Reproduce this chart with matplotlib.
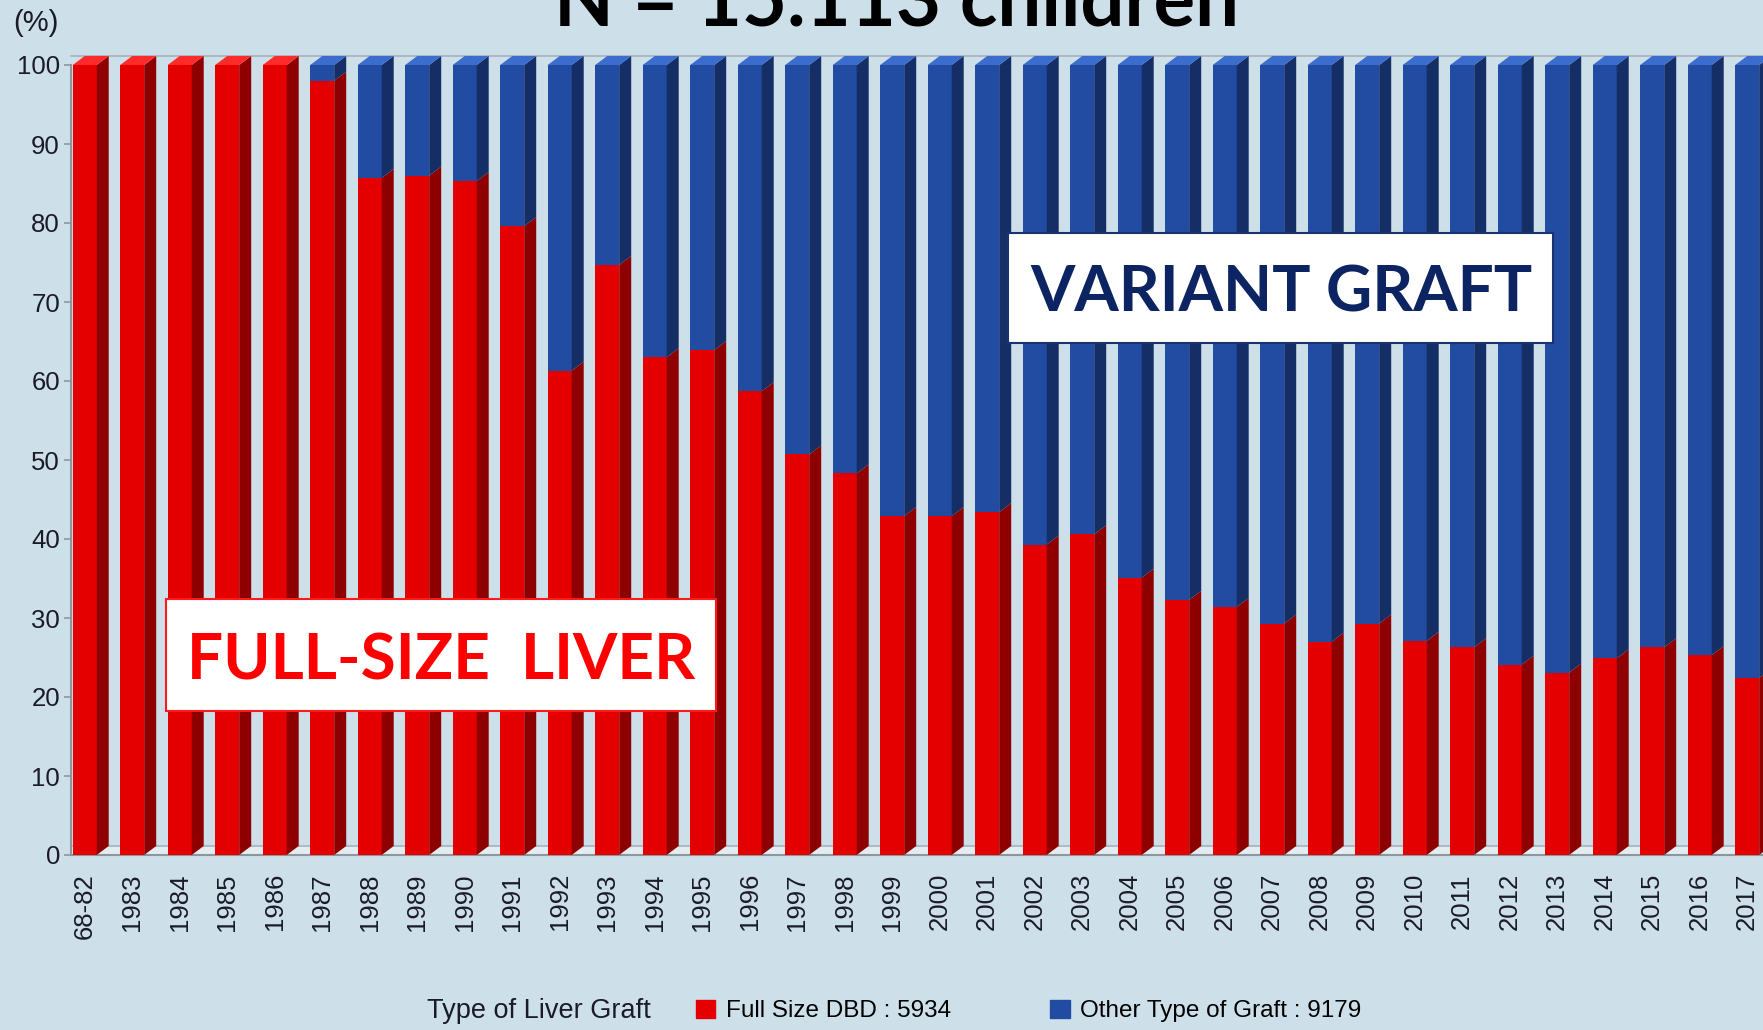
import matplotlib
matplotlib.use('Agg')
import matplotlib.pyplot as plt
from matplotlib.patches import Polygon, Rectangle, Patch
import numpy as np

# share of full size DBD livers per period (%), the rest are variant grafts
periods = ['68-82', '1983', '1984', '1985', '1986', '1987', '1988', '1989', '1990',
           '1991', '1992', '1993', '1994', '1995', '1996', '1997', '1998', '1999',
           '2000', '2001', '2002', '2003', '2004', '2005', '2006', '2007', '2008',
           '2009', '2010', '2011', '2012', '2013', '2014', '2015', '2016', '2017']
full_size = [100, 100, 100, 100, 100, 98, 85.7, 86, 85.3, 79.6, 61.3, 74.7, 63,
             63.9, 58.7, 50.7, 48.3, 42.9, 42.9, 43.4, 39.3, 40.6, 35.1, 32.3,
             31.4, 29.3, 27, 29.3, 27.1, 26.3, 24.1, 23.1, 24.9, 26.3, 25.3, 22.4]
other = [100 - v for v in full_size]
legend_labels = ['Full Size DBD : 5934', 'Other Type of Graft : 9179']

BG = '#cde0ea'
RED, RED_SIDE, RED_TOP = '#e40000', '#8e0000', '#ff2a2a'
BLUE, BLUE_SIDE, BLUE_TOP = '#214ca2', '#152e66', '#3b6dcf'
W, DX, DY = 0.505, 0.253, 1.14   # front width, 3d depth in x and y

W_PX, H_PX = 1763, 1030
fig = plt.figure(figsize=(W_PX / 100, H_PX / 100), dpi=100, facecolor=BG)
ax = fig.add_axes([71 / W_PX, (H_PX - 855) / H_PX, 1 - 71 / W_PX, 790 / H_PX])
ax.set_facecolor(BG)

x = np.arange(len(periods))
full_size = np.array(full_size)
other = np.array(other)

# floor
ax.axhspan(0, DY, color='#e3ecf1', zorder=1)
ax.axhline(DY, color='#a7b1b8', lw=1.2, zorder=1)
ax.axhline(100 + DY, color='#a7b1b8', lw=1.2, zorder=1, clip_on=False)

ax.bar(x, full_size, width=W, color=RED, zorder=3)
ax.bar(x, other, bottom=full_size, width=W, color=BLUE, zorder=3)

for xi, r, o in zip(x, full_size, other):
    xr = xi + W / 2
    ax.add_patch(Polygon([(xr, 0), (xr + DX, DY), (xr + DX, r + DY), (xr, r)],
                         closed=True, fc=RED_SIDE, ec='none', zorder=3, clip_on=False))
    if o > 0:
        ax.add_patch(Polygon([(xr, r), (xr + DX, r + DY), (xr + DX, 100 + DY), (xr, 100)],
                             closed=True, fc=BLUE_SIDE, ec='none', zorder=3, clip_on=False))
    top = BLUE_TOP if o > 0 else RED_TOP
    ax.add_patch(Polygon([(xi - W / 2, 100), (xr, 100), (xr + DX, 100 + DY),
                          (xi - W / 2 + DX, 100 + DY)],
                         closed=True, fc=top, ec='none', zorder=3, clip_on=False))

ax.set_xlim((71 - 84.7) / 47.5, (W_PX - 84.7) / 47.5)
ax.set_ylim(0, 100)
ax.set_yticks(range(0, 101, 10))
ax.set_xticks(x)
ax.set_xticklabels(periods, rotation=90, family='Liberation Sans', fontsize=18.5,
                   color='#1b1b28')
for s in ['top', 'right']:
    ax.spines[s].set_visible(False)
for s in ['left', 'bottom']:
    ax.spines[s].set_color('#8e969c')
    ax.spines[s].set_linewidth(1.5)
ax.tick_params(axis='x', length=0, pad=13)
ax.tick_params(axis='y', length=5, width=1.2, color='#8e969c', pad=3,
               labelsize=18.5, labelcolor='#1b1b28')
for lab in ax.get_yticklabels():
    lab.set_family('Liberation Sans')

# annotations in pixel coordinates
ov = fig.add_axes([0, 0, 1, 1], zorder=10)
ov.set_xlim(0, W_PX)
ov.set_ylim(H_PX, 0)
ov.axis('off')

# title is cut by the top edge in the original slide
ov.text(896, 25, 'N = 15.113 children', ha='center', va='baseline',
        family='Lato', weight='bold', fontsize=56, color='black')
ov.text(36, 23, '(%)', ha='center', va='center', family='Liberation Sans',
        fontsize=21, color='#1b1b28')

ov.add_patch(Rectangle((166, 599), 550, 112, fc='white', ec='#ff1a1a', lw=1.5))
ov.text(441, 679, 'FULL-SIZE  LIVER', ha='center', va='baseline',
        family='Lato', weight='bold', fontsize=46, color='#ff0000')
ov.add_patch(Rectangle((1008, 233), 545, 110, fc='white', ec='#1a3370', lw=1.5))
ov.text(1281, 311, 'VARIANT GRAFT', ha='center', va='baseline',
        family='Lato', weight='bold', fontsize=46, color='#0c2461')

# legend
ov.text(427, 1011, 'Type of Liver Graft', ha='left', va='center',
        family='Liberation Sans', fontsize=19.5, color='#1b1b28')
handles = [Patch(color=RED), Patch(color=BLUE)]
fig.legend(handles, legend_labels, loc='center left', ncol=2,
           bbox_to_anchor=(696 / W_PX, 1 - 1011 / H_PX), frameon=False,
           borderpad=0, borderaxespad=0, handlelength=0.8, handleheight=0.8,
           handletextpad=0.42, columnspacing=4.1,
           prop={'family': 'Liberation Sans', 'size': 17.5})

fig.savefig('out.png', dpi=100, facecolor=BG)
